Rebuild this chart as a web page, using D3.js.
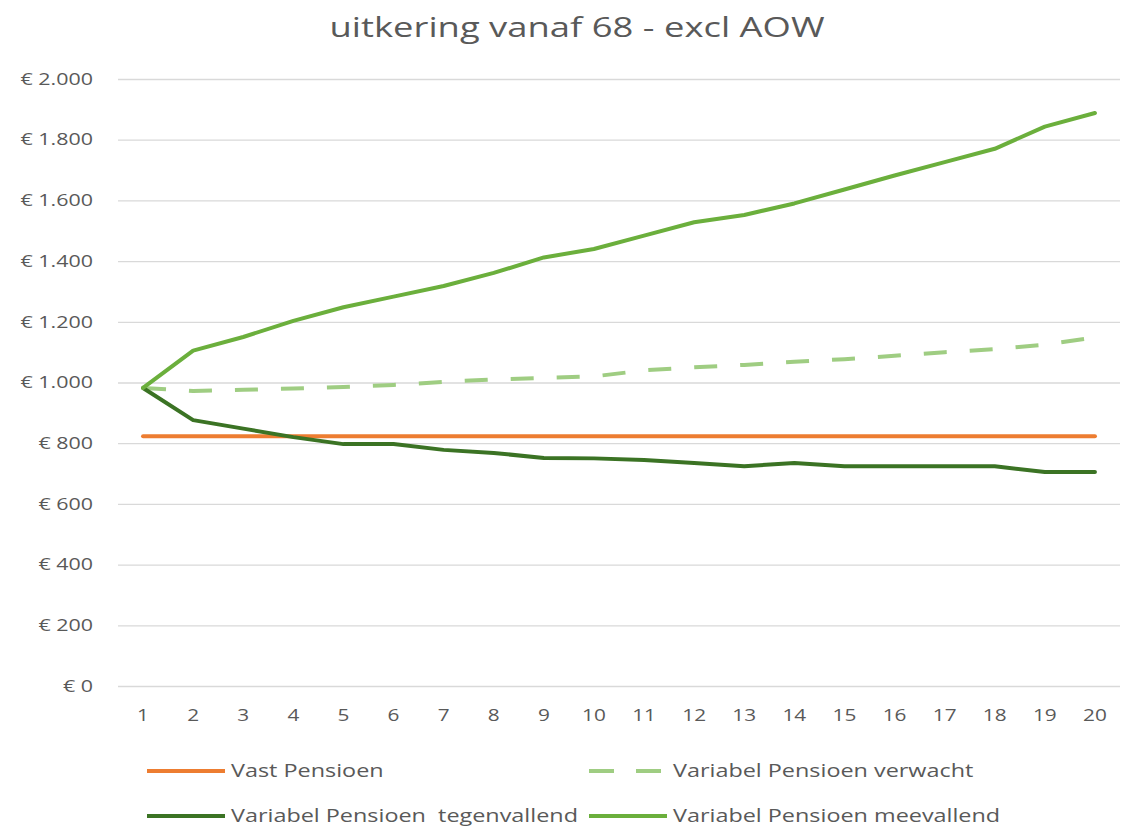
<!DOCTYPE html>
<head>
<meta charset="utf-8">
<script src="https://d3js.org/d3.v7.min.js"></script>
<style>
  body { margin: 0; background: #fff; }
  text { font-family: "Open Sans", sans-serif; fill: #595959; }
</style>
</head>
<body>
<div id="datavis"></div>

<script type="text/javascript">
    // data
    var years = d3.range(1, 21);
    var vast = [823, 823, 823, 823, 823, 823, 823, 823, 823, 823, 823, 823, 823, 823, 823, 823, 823, 823, 823, 823];
    var verwacht = [982, 972, 976, 980, 985, 992, 1002, 1010, 1015, 1020, 1040, 1050, 1058, 1068, 1077, 1088, 1100, 1110, 1125, 1148];
    var tegenvallend = [982, 876, 848, 820, 797, 797, 778, 768, 751, 750, 745, 735, 724, 735, 724, 724, 724, 724, 705, 705];
    var meevallend = [982, 1105, 1150, 1203, 1248, 1283, 1318, 1361, 1412, 1440, 1484, 1528, 1552, 1590, 1636, 1682, 1726, 1770, 1843, 1888];
    var yTicks = [0, 200, 400, 600, 800, 1000, 1200, 1400, 1600, 1800, 2000];

    var series = [
      { name: "Vast Pensioen", values: vast, color: "#ED7D31", dash: null },
      { name: "Variabel Pensioen verwacht", values: verwacht, color: "#9FCD82", dash: "23,23" },
      { name: "Variabel Pensioen  tegenvallend", values: tegenvallend, color: "#3B7324", dash: null },
      { name: "Variabel Pensioen meevallend", values: meevallend, color: "#6BAF3C", dash: null }
    ];

    var width = 1133, height = 834;
    var plot = { left: 118, right: 1120, top: 79, bottom: 686 };
    var stretch = 1.3; // the reference text is wide, stretch glyphs horizontally

    var svg = d3.select("#datavis")
                .append("svg")
                .attr("width", width)
                .attr("height", height);

    // title
    svg.append("text")
       .attr("transform", "translate(577,37) scale(" + stretch + ",1)")
       .attr("text-anchor", "middle")
       .style("font-size", "28px")
       .text("uitkering vanaf 68 - excl AOW");

    var x = d3.scaleBand()
              .domain(years)
              .range([plot.left, plot.right]);

    var y = d3.scaleLinear()
              .domain([0, 2000])
              .range([plot.bottom, plot.top]);

    var fmt = function(d) {
      return "€ " + d3.format(",")(d).replace(/,/g, ".");
    };

    // gridlines + y labels
    var yAxis = svg.append("g")
       .attr("transform", "translate(" + plot.left + ",0)")
       .call(d3.axisLeft(y).tickValues(yTicks).tickSize(-(plot.right - plot.left)).tickPadding(25).tickFormat(fmt));
    yAxis.select(".domain").remove();
    yAxis.selectAll("line").attr("stroke", "#d9d9d9").attr("stroke-width", 1.3);
    yAxis.selectAll("text")
         .style("font-size", "16.5px")
         .attr("fill", "#595959")
         .attr("x", -25 / stretch)
         .attr("transform", "scale(" + stretch + ",1)");

    // x labels
    var xAxis = svg.append("g")
       .attr("transform", "translate(0," + plot.bottom + ")")
       .call(d3.axisBottom(x).tickSize(0).tickPadding(24));
    xAxis.select(".domain").remove();
    xAxis.selectAll("text")
         .style("font-size", "16px")
         .attr("fill", "#595959")
         .attr("transform", "scale(" + stretch + ",1)");

    var line = d3.line()
                 .x(function(d, i) { return x(years[i]) + x.bandwidth() / 2; })
                 .y(function(d) { return y(d); });

    series.forEach(function(s) {
      svg.append("path")
         .datum(s.values)
         .attr("fill", "none")
         .attr("stroke", s.color)
         .attr("stroke-width", 4)
         .attr("stroke-linejoin", "round")
         .attr("stroke-linecap", s.dash ? "butt" : "round")
         .attr("stroke-dasharray", s.dash)
         .attr("d", line);
    });

    // legend
    var legendPos = [[147, 771], [589, 771], [147, 816], [589, 816]];
    series.forEach(function(s, i) {
      var p = legendPos[i];
      svg.append("line")
         .attr("x1", p[0]).attr("x2", p[0] + 78)
         .attr("y1", p[1]).attr("y2", p[1])
         .attr("stroke", s.color)
         .attr("stroke-width", 4)
         .attr("stroke-dasharray", s.dash ? "25,22" : null);
      svg.append("text")
         .attr("transform", "translate(" + (p[0] + 84) + "," + (p[1] + 6) + ") scale(" + stretch + ",1)")
         .style("font-size", "18px")
         .style("white-space", "pre")
         .text(s.name);
    });
</script>
</body>
